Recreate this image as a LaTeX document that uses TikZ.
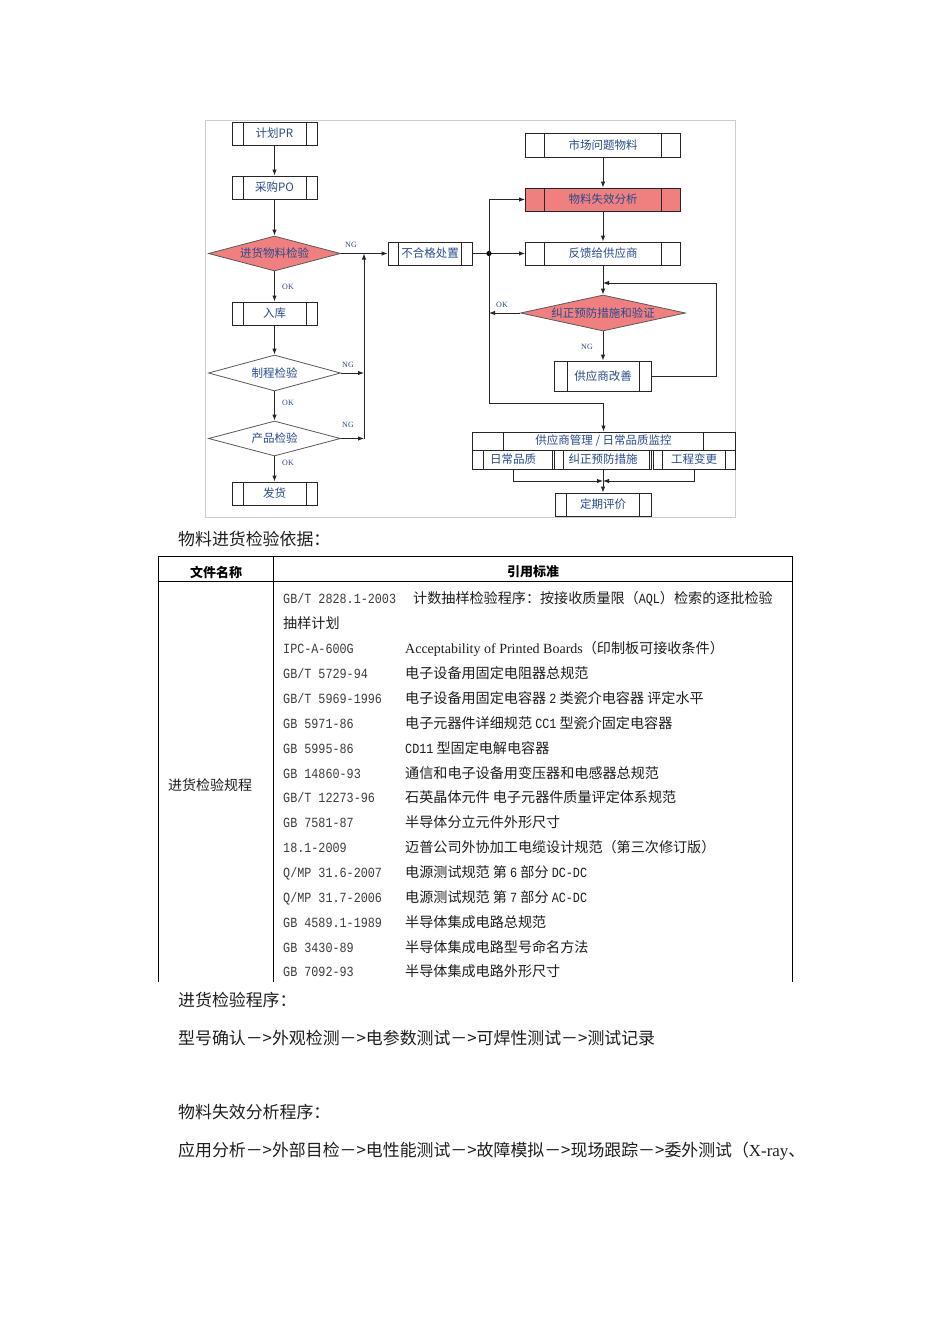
\documentclass[tikz,border=0pt]{standalone}
\usepackage{fontspec}
\setmainfont{Liberation Serif}
\newfontfamily\cjk{Noto Sans CJK SC}
\newfontfamily\monof[FakeStretch=0.84]{Liberation Mono}
\usetikzlibrary{shapes.geometric,arrows.meta}
\definecolor{salmon}{RGB}{240,128,128}
\definecolor{fblue}{RGB}{40,75,140}
\definecolor{framegray}{RGB}{205,205,205}
\definecolor{txt}{RGB}{30,30,30}
\definecolor{mtxt}{RGB}{60,60,60}
\newcommand{\mt}[1]{{\monof\fontsize{14}{16}\selectfont #1}}
\begin{document}
\begin{tikzpicture}[x=1pt,y=-1pt,
  pbox/.style 2 args={draw=black!85, line width=0.9pt, rectangle, inner sep=0pt,
    text=fblue, font=\cjk\fontsize{11.5}{12}\selectfont,
    path picture={
      \draw[line width=0.9pt] ([xshift=#1]path picture bounding box.north west) -- ([xshift=#1]path picture bounding box.south west);
      \draw[line width=0.9pt] ([xshift=-#2]path picture bounding box.north east) -- ([xshift=-#2]path picture bounding box.south east);}},
  dia/.style={diamond, draw=black!65, line width=0.8pt, inner sep=0pt, aspect=4,
    text=fblue, font=\cjk\fontsize{11.5}{12}\selectfont},
  arr/.style={-{Latex[length=6pt,width=4.5pt]}, line width=0.9pt, draw=black!85},
  ln/.style={line width=0.9pt, draw=black!85},
  lbl/.style={font=\fontsize{8}{9}\selectfont, text=fblue, inner sep=0pt},
  tline/.style={line width=0.9pt, draw=black},
  code/.style={anchor=base west, inner sep=0pt, text=mtxt, font=\monof\fontsize{14}{16}\selectfont},
  desc/.style={anchor=base west, inner sep=0pt, text=txt, font=\cjk\fontsize{14.1}{16}\selectfont},
  para/.style={anchor=base west, inner sep=0pt, text=txt, font=\cjk\fontsize{16.9}{18}\selectfont}
]
\useasboundingbox (0,0) rectangle (950,1344);
\fill[white] (0,0) rectangle (950,1344);

% frame
\draw[framegray, line width=0.8pt] (205,120) rectangle (735,517);

% left column
\node[pbox={11pt}{11pt}, minimum width=85pt, minimum height=23pt] (pr) at (274.5,133.5) {计划PR};
\node[pbox={11pt}{11pt}, minimum width=85pt, minimum height=23pt] (po) at (274.5,187.5) {采购PO};
\node[dia, fill=salmon, minimum width=132pt, minimum height=35pt] (d1) at (274.5,253.5) {进货物料检验};
\node[pbox={11pt}{11pt}, minimum width=85pt, minimum height=23pt] (rk) at (274.5,313.5) {入库};
\node[dia, fill=white, minimum width=132pt, minimum height=36pt] (d2) at (274.5,373) {制程检验};
\node[dia, fill=white, minimum width=132pt, minimum height=35pt] (d3) at (274.5,438.5) {产品检验};
\node[pbox={11pt}{11pt}, minimum width=85pt, minimum height=23pt] (fh) at (274.5,493.5) {发货};
\node[pbox={10pt}{11pt}, minimum width=84pt, minimum height=23pt] (bhg) at (430,253.5) {不合格处置};

% right column
\node[pbox={19pt}{19pt}, minimum width=155pt, minimum height=24pt] (sc) at (603,145) {市场问题物料};
\node[pbox={19pt}{19pt}, fill=salmon, minimum width=155pt, minimum height=23pt] (sx) at (603,199.5) {物料失效分析};
\node[pbox={19pt}{19pt}, minimum width=155pt, minimum height=23pt] (fk) at (603,253.5) {反馈给供应商};
\node[dia, fill=salmon, aspect=4.6, minimum width=165pt, minimum height=36pt] (d4) at (603,313) {纠正预防措施和验证};
\node[pbox={13pt}{12pt}, minimum width=97pt, minimum height=30pt] (gy) at (603,376) {供应商改善};
\node[pbox={31pt}{32pt}, minimum width=263pt, minimum height=18pt] (gl) at (603.5,441) {供应商管理 / 日常品质监控};
\node[pbox={11pt}{2pt}, minimum width=82pt, minimum height=19pt] (b1) at (513,459.5) {日常品质};
\node[pbox={9pt}{2pt}, minimum width=97pt, minimum height=19pt] (b2) at (603,459.5) {纠正预防措施};
\node[pbox={9pt}{10pt}, minimum width=82pt, minimum height=19pt] (b3) at (694,459.5) {工程变更};
\node[pbox={11pt}{12pt}, minimum width=96pt, minimum height=23pt] (dq) at (603,504.5) {定期评价};

% left connectors
\draw[arr] (pr.south) -- (po.north);
\draw[arr] (po.south) -- (d1.north);
\draw[arr] (d1.south) -- (rk.north);
\draw[arr] (rk.south) -- (d2.north);
\draw[arr] (d2.south) -- (d3.north);
\draw[arr] (d3.south) -- (fh.north);
\draw[arr] (d1.east) -- (bhg.west);
\coordinate (j1) at (364,253.5);
\coordinate (j2) at (364,373);
\coordinate (j3) at (364,438.5);
\draw[arr] (d2.east) -- (j2);
\draw[arr] (d3.east) -- (j3);
\draw[arr] (j3) -- (j1);
\node[lbl] (ok1) at (288,287) {OK};
\node[lbl] (ok2) at (288,403) {OK};
\node[lbl] (ok3) at (288,463) {OK};
\node[lbl] (ng1) at (351,245) {NG};
\node[lbl] (ng2) at (348,365) {NG};
\node[lbl] (ng3) at (348,425) {NG};

% right connectors
\coordinate (jd) at (489,253.5);
\coordinate (ja) at (489,199.5);
\coordinate (jb) at (489,403);
\coordinate (jc) at (603.5,403);
\coordinate (jok) at (489,313);
\draw[ln] (bhg.east) -- (jd);
\draw[arr] (jd) -- (fk.west);
\fill[black] (jd) circle (2.6);
\draw[arr] (ja) -- (sx.west);
\draw[ln] (ja) -- (jb) -- (jc);
\draw[arr] (jc) -- (gl.north);
\draw[arr] (sc.south) -- (sx.north);
\draw[arr] (sx.south) -- (fk.north);
\draw[arr] (fk.south) -- (d4.north);
\draw[arr] (d4.west) -- (jok);
\draw[arr] (d4.south) -- (gy.north);
\coordinate (l1) at (716,376);
\coordinate (l2) at (716,283);
\coordinate (l3) at (603,283);
\draw[arr] (gy.east) -- (l1) -- (l2) -- (l3);
\node[lbl] (ok4) at (502,305) {OK};
\node[lbl] (ng4) at (587,347) {NG};

% bottom merge
\coordinate (m1) at (513,481);
\coordinate (m2) at (694,481);
\coordinate (m0) at (603,481);
\draw[arr] (b1.south) -- (m1) -- (m0);
\draw[arr] (b3.south) -- (m2) -- (m0);
\draw[arr] (b2.south) -- (dq.north);

% caption above table
\node[para] (cap1) at (178,545) {物料进货检验依据：};

% table
\draw[tline] (158,982) -- (158,556) -- (792,556) -- (792,982);
\draw[tline] (158,581) -- (792,581);
\draw[tline] (273,556) -- (273,982);
\node[font=\cjk\bfseries\fontsize{13}{14}\selectfont, text=black] (h1) at (216,572) {文件名称};
\node[font=\cjk\bfseries\fontsize{13}{14}\selectfont, text=black] (h2) at (533,572) {引用标准};
\node[anchor=west, inner sep=0pt, text=txt, font=\cjk\fontsize{14}{16}\selectfont] (rl) at (168,785) {进货检验规程};

\node[code] (c1) at (283,603) {GB/T 2828.1-2003};
\node[desc] (e1) at (413,603) {计数抽样检验程序：按接收质量限（\mt{AQL}）检索的逐批检验};
\node[desc] (e2) at (283,628) {抽样计划};
\node[code] (c3) at (283,653) {IPC-A-600G};
\node[desc] (e3) at (405,653) {{\rmfamily\fontsize{14}{16}\selectfont Acceptability of Printed Boards}（印制板可接收条件）};
\node[code] (c4) at (283,678) {GB/T 5729-94};
\node[desc] (e4) at (405,678) {电子设备用固定电阻器总规范};
\node[code] (c5) at (283,703) {GB/T 5969-1996};
\node[desc] (e5) at (405,703) {电子设备用固定电容器 \mt{2} 类瓷介电容器 评定水平};
\node[code] (c6) at (283,728) {GB 5971-86};
\node[desc] (e6) at (405,728) {电子元器件详细规范 \mt{CC1} 型瓷介固定电容器};
\node[code] (c7) at (283,753) {GB 5995-86};
\node[desc] (e7) at (405,753) {\mt{CD11} 型固定电解电容器};
\node[code] (c8) at (283,778) {GB 14860-93};
\node[desc] (e8) at (405,778) {通信和电子设备用变压器和电感器总规范};
\node[code] (c9) at (283,802) {GB/T 12273-96};
\node[desc] (e9) at (405,802) {石英晶体元件 电子元器件质量评定体系规范};
\node[code] (c10) at (283,827) {GB 7581-87};
\node[desc] (e10) at (405,827) {半导体分立元件外形尺寸};
\node[code] (c11) at (283,852) {18.1-2009};
\node[desc] (e11) at (405,852) {迈普公司外协加工电缆设计规范（第三次修订版）};
\node[code] (c12) at (283,877) {Q/MP 31.6-2007};
\node[desc] (e12) at (405,877) {电源测试规范 第 \mt{6} 部分 \mt{DC-DC}};
\node[code] (c13) at (283,902) {Q/MP 31.7-2006};
\node[desc] (e13) at (405,902) {电源测试规范 第 \mt{7} 部分 \mt{AC-DC}};
\node[code] (c14) at (283,927) {GB 4589.1-1989};
\node[desc] (e14) at (405,927) {半导体集成电路总规范};
\node[code] (c15) at (283,952) {GB 3430-89};
\node[desc] (e15) at (405,952) {半导体集成电路型号命名方法};
\node[code] (c16) at (283,976) {GB 7092-93};
\node[desc] (e16) at (405,976) {半导体集成电路外形尺寸};

% paragraphs
\node[para] (p1) at (178,1006) {进货检验程序：};
\node[para] (p2) at (178,1044) {型号确认－>外观检测－>电参数测试－>可焊性测试－>测试记录};
\node[para] (p3) at (178,1118) {物料失效分析程序：};
\node[para] (p4) at (178,1156) {应用分析－>外部目检－>电性能测试－>故障模拟－>现场跟踪－>委外测试（{\rmfamily\fontsize{16.9}{18}\selectfont X-ray}、};
\end{tikzpicture}
\end{document}
